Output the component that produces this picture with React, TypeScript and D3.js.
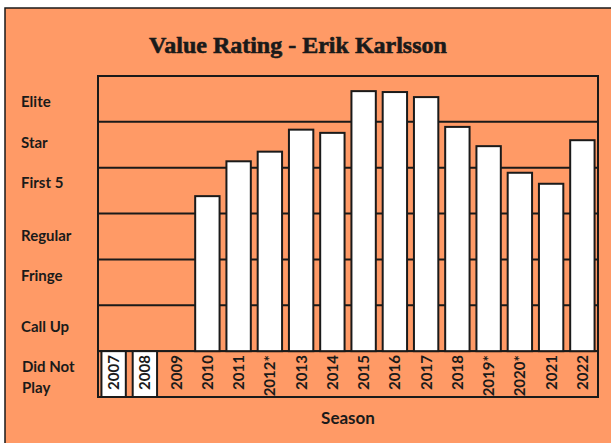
import React from "react";
import * as d3 from "d3";

const seasons = ["2007","2008","2009","2010","2011","2012*","2013","2014","2015","2016","2017","2018","2019*","2020*","2021","2022"];
const ratings = [1, 1, 0, 4.38, 5.14, 5.35, 5.83, 5.76, 6.67, 6.65, 6.54, 5.89, 5.47, 4.89, 4.65, 5.6];
const levelLabels = ["Did Not Play", "Call Up", "Fringe", "Regular", "First 5", "Star", "Elite"];
const labelOffsets = [0, -1, -6, -1, -8, -2, 3];

const W = 611, H = 443;
const BG = "#FF9A66";
const INK = "#1a1a1a";

export default function App() {
  const left = 98, right = 598, top = 76, bottom = 397;
  const x = d3.scaleBand<string>().domain(seasons).range([left, right]).paddingInner(0.22).paddingOuter(0.11);
  const y = d3.scaleLinear().domain([0, 7]).range([bottom, top]);
  const gridVals = d3.range(1, 7);
  const font = "Lato, sans-serif";

  return (
    <svg width={W} height={H} style={{ position: "absolute", left: 0, top: 0, background: "#fff" }}>
      <rect x={5} y={8} width={W + 10} height={H + 10} fill={BG} stroke={INK} strokeWidth={1.5} />
      <text x={298} y={53} textAnchor="middle" fontFamily="'Liberation Serif', serif" fontWeight="bold" fontSize={24} fill={INK} stroke={INK} strokeWidth={0.6}>
        Value Rating - Erik Karlsson
      </text>
      {gridVals.map((v) => (
        <line key={v} x1={left} x2={right} y1={y(v)} y2={y(v)} stroke={INK} strokeWidth={2} />
      ))}
      <rect x={left} y={top} width={right - left} height={bottom - top} fill="none" stroke={INK} strokeWidth={2} />
      <rect x={left} y={y(1)} width={right - left} height={y(0) - y(1)} fill={BG} stroke={INK} strokeWidth={2} />
      {seasons.map((s, i) => {
        const v = ratings[i];
        if (v <= 0) return null;
        const base = v > 1 ? 1 : 0;
        return (
          <rect key={s} x={x(s)} y={y(v)} width={x.bandwidth()} height={y(base) - y(v)} fill="#fff" stroke={INK} strokeWidth={2} />
        );
      })}
      {seasons.map((s) => {
        const cx = (x(s) as number) + x.bandwidth() / 2;
        return (
          <text key={s} transform={`translate(${cx + 5.5},${y(1) + 4}) rotate(-90)`} textAnchor="end" fontFamily={font} fontWeight="bold" fontSize={15} fill={INK}>
            {s}
          </text>
        );
      })}
      {levelLabels.map((l, i) => {
        const cy = y(i + 0.5) + labelOffsets[i];
        if (l === "Did Not Play") {
          return (
            <text key={l} fontFamily={font} fontWeight="bold" fontSize={15} fill={INK}>
              <tspan x={22} y={cy - 2}>Did Not</tspan>
              <tspan x={22} y={cy + 19}>Play</tspan>
            </text>
          );
        }
        return (
          <text key={l} x={21} y={cy + 5} fontFamily={font} fontWeight="bold" fontSize={15} fill={INK}>
            {l}
          </text>
        );
      })}
      <text x={(left + right) / 2} y={424} textAnchor="middle" fontFamily={font} fontWeight="bold" fontSize={17} fill={INK}>
        Season
      </text>
    </svg>
  );
}
